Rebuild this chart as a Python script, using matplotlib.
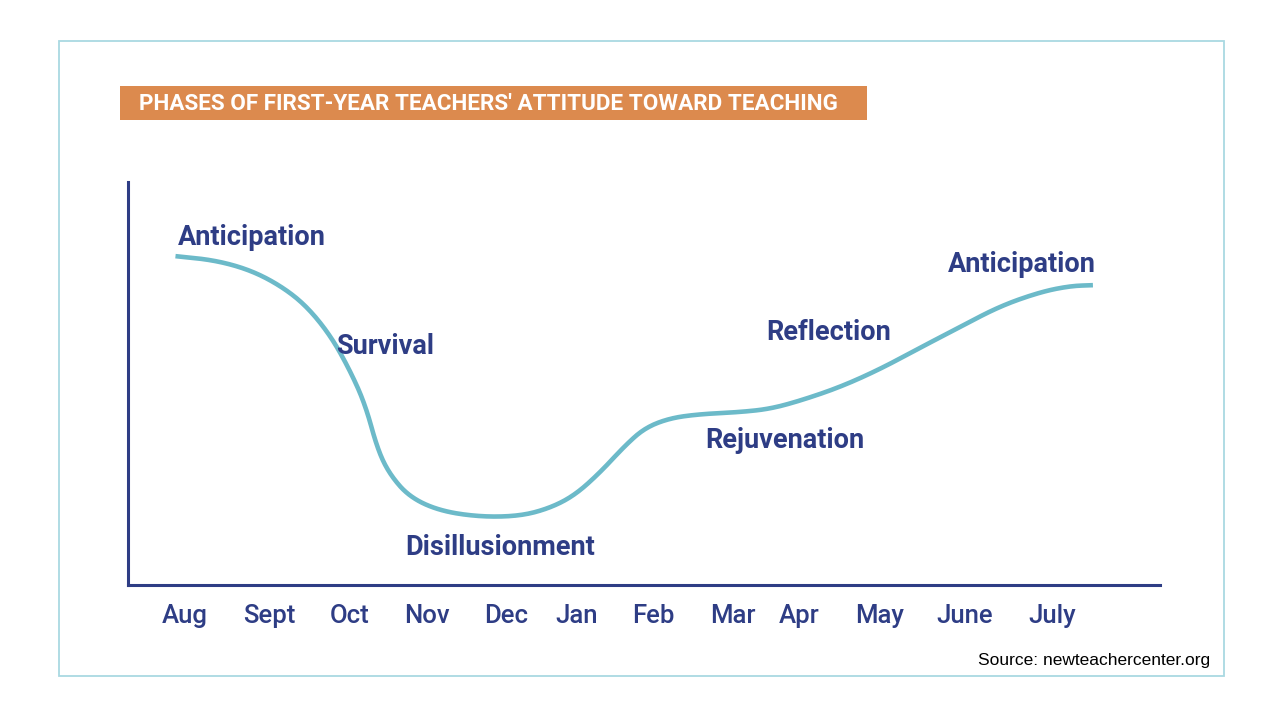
import numpy as np
import matplotlib.pyplot as plt
from matplotlib.patches import Rectangle

# timeline positions (0-100 across the axis) and attitude level (0-100)
months = ['Aug', 'Sept', 'Oct', 'Nov', 'Dec', 'Jan', 'Feb', 'Mar', 'Apr', 'May', 'June', 'July']
month_pos = [5.5, 13.7, 21.5, 29.0, 36.6, 43.5, 50.9, 58.6, 65.0, 72.8, 81.1, 89.6]

curve_x = [4.6, 8.4, 11.8, 14.7, 17.2, 19.6, 21.5, 23.0, 24.2, 25.4, 27.3, 30.2, 34.1, 38.0,
           40.9, 43.3, 45.7, 48.2, 50.1, 52.5, 55.4, 59.3, 62.2, 65.1, 69.0, 72.9, 76.7,
           80.6, 84.5, 88.4, 91.3, 93.5]
curve_y = [81.6, 80.6, 78.2, 74.4, 69.5, 62.0, 53.3, 44.7, 33.5, 27.3, 21.8, 18.4, 16.9, 17.1,
           19.1, 22.3, 27.8, 34.7, 39.0, 41.4, 42.4, 42.9, 43.7, 45.7, 49.1, 53.6, 58.8,
           64.0, 69.2, 72.7, 74.2, 74.4]

phases = ['Anticipation', 'Survival', 'Disillusionment', 'Rejuvenation', 'Reflection', 'Anticipation']
phase_x = [12.0, 24.9, 36.1, 63.6, 67.9, 86.6]
phase_y = [86.2, 59.2, 9.3, 35.8, 62.6, 79.5]

navy = '#2e3d85'
teal = '#6cbac9'

def chaikin(x, y, n=4):
    pts = np.column_stack([x, y])
    for _ in range(n):
        q = 0.75 * pts[:-1] + 0.25 * pts[1:]
        r = 0.25 * pts[:-1] + 0.75 * pts[1:]
        new = np.empty((len(q) * 2, 2))
        new[0::2] = q
        new[1::2] = r
        pts = np.vstack([pts[:1], new, pts[-1:]])
    return pts[:, 0], pts[:, 1]

fig = plt.figure(figsize=(12.62, 7.04), dpi=100)
W, H = 1262, 704

# outer frame
fig.patches.append(Rectangle((59 / W, 1 - 676 / H), (1224 - 59) / W, (676 - 41) / H,
                             transform=fig.transFigure, fill=False, ec='#a9d9e2', lw=1.3))
# title bar
fig.patches.append(Rectangle((120 / W, 1 - 120 / H), (867 - 120) / W, 34 / H,
                             transform=fig.transFigure, fc='#dc8a4e', ec='none'))
fig.text(139 / W, 1 - 103.5 / H, "PHASES OF FIRST-YEAR TEACHERS' ATTITUDE TOWARD TEACHING",
         color='white', fontsize=16.2, fontweight='bold', family='Roboto', va='center', ha='left')

ax = fig.add_axes([128 / W, 1 - 585 / H, (1160 - 128) / W, (585 - 182) / H])
ax.set_xlim(0, 100)
ax.set_ylim(0, 100)
for s in ['top', 'right']:
    ax.spines[s].set_visible(False)
for s in ['left', 'bottom']:
    ax.spines[s].set_color(navy)
    ax.spines[s].set_linewidth(2.2)
ax.set_yticks([])
ax.set_xticks(month_pos)
ax.set_xticklabels(months, fontsize=18.5, fontweight='medium', family='Roboto', color=navy)
ax.tick_params(axis='x', length=0, pad=13.5)

sx, sy = chaikin(curve_x, curve_y)
ax.plot(sx, sy, color=teal, lw=3.3, solid_capstyle='butt')

for t, x, y in zip(phases, phase_x, phase_y):
    ax.text(x, y, t, ha='center', va='center', fontsize=19.5, fontweight='bold',
            family='Roboto', color=navy)

fig.text(1210 / W, 1 - 661 / H, 'Source: newteachercenter.org', ha='right', va='center',
         fontsize=12.5, family='Liberation Sans', color='black')

fig.savefig('out.png', dpi=100)
